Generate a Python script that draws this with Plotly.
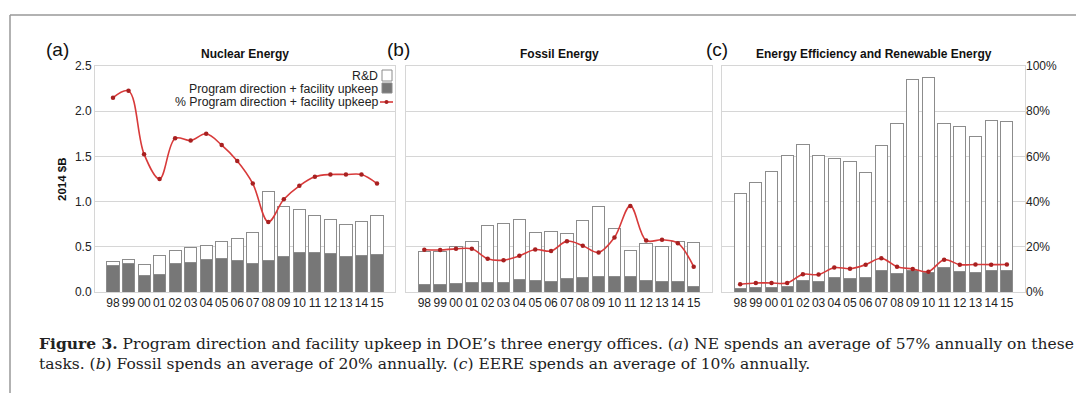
import plotly.graph_objects as go

# ---------------- data ----------------
years = ['98', '99', '00', '01', '02', '03', '04', '05', '06', '07', '08',
         '09', '10', '11', '12', '13', '14', '15']

# Nuclear Energy (2014 $B)
ne_total = [0.335, 0.36, 0.30, 0.40, 0.46, 0.49, 0.51, 0.56, 0.59, 0.66, 1.11,
            0.95, 0.91, 0.85, 0.80, 0.75, 0.78, 0.85]
ne_pd = [0.29, 0.317, 0.18, 0.195, 0.313, 0.33, 0.357, 0.368, 0.346, 0.32, 0.35,
         0.394, 0.434, 0.434, 0.423, 0.394, 0.405, 0.41]
ne_pct = [86, 89, 61, 50, 68, 67, 70, 65, 58, 48, 31, 41, 47, 51, 52, 52, 52, 48]

# Fossil Energy
fe_total = [0.453, 0.453, 0.508, 0.563, 0.74, 0.762, 0.80, 0.66, 0.666, 0.648,
            0.795, 0.946, 0.703, 0.457, 0.537, 0.508, 0.563, 0.552]
fe_pd = [0.085, 0.088, 0.096, 0.103, 0.11, 0.11, 0.133, 0.129, 0.12, 0.144,
         0.158, 0.17, 0.17, 0.173, 0.129, 0.118, 0.12, 0.063]
fe_pct = [18.7, 18.6, 19.1, 19.1, 14.7, 14.1, 16.0, 18.8, 18.1, 22.5, 20.5,
          17.5, 24.1, 38.1, 22.8, 23.1, 21.6, 11.2]

# Energy Efficiency and Renewable Energy
ee_total = [1.086, 1.21, 1.33, 1.506, 1.627, 1.506, 1.476, 1.447, 1.325, 1.624,
            1.867, 2.35, 2.37, 1.86, 1.834, 1.72, 1.90, 1.89]
ee_pd = [0.04, 0.05, 0.055, 0.063, 0.129, 0.118, 0.158, 0.147, 0.162, 0.243,
         0.21, 0.24, 0.22, 0.27, 0.225, 0.214, 0.24, 0.24]
ee_pct = [3.4, 4.0, 4.0, 4.0, 7.8, 7.7, 10.8, 10.3, 12.1, 14.9, 11.2, 10.2,
          9.0, 14.3, 12.1, 12.2, 12.1, 12.2]

panels = [
    ("Nuclear Energy", "(a)", ne_total, ne_pd, ne_pct),
    ("Fossil Energy", "(b)", fe_total, fe_pd, fe_pct),
    ("Energy Efficiency and Renewable Energy", "(c)", ee_total, ee_pd, ee_pct),
]

y_ticks = [0.0, 0.5, 1.0, 1.5, 2.0, 2.5]
pct_ticks = [0, 20, 40, 60, 80, 100]
pct_labels = [f"{v}%" for v in pct_ticks]

# ---------------- layout geometry ----------------
# the page has an 8px body margin, so the figure is drawn 8px smaller and
# all reference pixel positions are shifted by that offset
OFF = 8
W, H = 1084 - OFF, 393 - OFF
ML = 95 - OFF
MT = 66 - OFF
MR = W - (1025 - OFF)
MB = H - (292 - OFF)
PW = W - ML - MR
PH = H - MT - MB


def px2x(px):
    return (px - OFF - ML) / PW


def px2y(py):
    return (H - MB - (py - OFF)) / PH


domains = [(px2x(95), px2x(395)), (px2x(406), px2x(712)), (px2x(722), px2x(1025))]

FONT = "Liberation Sans, Arial, sans-serif"
SERIF = "DejaVu Serif, Liberation Serif, serif"
DARK = "#777777"
EDGE = "#8c8c8c"
GRID = "#d6d6d6"
RED = "#d83a3a"
MARK = "#a82020"
TXT = "#222222"

fig = go.Figure()

for i, (title, tag, total, pd_, pct) in enumerate(panels):
    n = i + 1
    xa = "x" if n == 1 else f"x{n}"
    ya = "y" if n == 1 else f"y{n}"
    ya2 = f"y{n + 3}"
    rd = [t - p for t, p in zip(total, pd_)]
    fig.add_trace(go.Bar(x=years, y=pd_, xaxis=xa, yaxis=ya,
                         marker=dict(color=DARK, line=dict(color=EDGE, width=1)),
                         showlegend=False, name="Program direction + facility upkeep"))
    fig.add_trace(go.Bar(x=years, y=rd, xaxis=xa, yaxis=ya,
                         marker=dict(color="white", line=dict(color=EDGE, width=1)),
                         showlegend=False, name="R&D"))
    fig.add_trace(go.Scatter(x=years, y=pct, xaxis=xa, yaxis=ya2, mode="lines+markers",
                             line=dict(color=RED, width=1.6, shape="spline", smoothing=1.0),
                             marker=dict(color=MARK, size=4.5),
                             showlegend=False, name="% Program direction + facility upkeep"))

    xkey = "xaxis" if n == 1 else f"xaxis{n}"
    ykey = "yaxis" if n == 1 else f"yaxis{n}"
    fig.layout[xkey] = dict(domain=list(domains[i]), anchor=ya, type="category",
                            showline=True, linecolor=GRID, mirror=True, ticks="",
                            tickangle=0,
                            tickfont=dict(family=FONT, size=12, color=TXT),
                            showgrid=False, fixedrange=True)
    fig.layout[ykey] = dict(domain=[0, 1], anchor=xa, range=[0, 2.5],
                            tickvals=y_ticks, tickformat=".1f",
                            showticklabels=(n == 1), showline=True, linecolor=GRID,
                            mirror=True, showgrid=True, gridcolor=GRID, gridwidth=1,
                            zeroline=False, ticks="",
                            tickfont=dict(family=FONT, size=12, color=TXT))
    fig.layout[f"yaxis{n + 3}"] = dict(overlaying=ya, anchor=xa, range=[0, 100],
                                       side="right", showgrid=False, zeroline=False,
                                       showline=False, visible=(n == 3),
                                       tickmode="array", tickvals=pct_ticks,
                                       ticktext=pct_labels, ticks="",
                                       tickfont=dict(family=FONT, size=12, color=TXT))

    cx = (domains[i][0] + domains[i][1]) / 2
    fig.add_annotation(text=f"<b>{title}</b>", x=cx, y=px2y(54), xref="paper", yref="paper",
                       showarrow=False, font=dict(family=FONT, size=12, color="#111"),
                       xanchor="center", yanchor="middle")

tag_pos = [(57, "(a)"), (398, "(b)"), (717, "(c)")]
for px, tag in tag_pos:
    fig.add_annotation(text=tag, x=px2x(px), y=px2y(49), xref="paper", yref="paper",
                       showarrow=False, font=dict(family=FONT, size=19, color="#111"),
                       xanchor="center", yanchor="middle")

# y-axis title
fig.add_annotation(text="<b>2014 $B</b>", x=px2x(62), y=px2y(180), xref="paper",
                   yref="paper", textangle=-90, showarrow=False,
                   font=dict(family=FONT, size=11.5, color="#111"),
                   xanchor="center", yanchor="middle")

# custom legend (text right-aligned, symbol on the right) in panel (a)
leg_items = [("R&D", 75.5), ("Program direction + facility upkeep", 88.5),
             ("% Program direction + facility upkeep", 102)]
for label, py in leg_items:
    fig.add_annotation(text=label, x=px2x(380), y=px2y(py), xref="paper", yref="paper",
                       showarrow=False, xanchor="right", yanchor="middle",
                       font=dict(family=FONT, size=12.3, color=TXT))
fig.add_shape(type="rect", xref="paper", yref="paper", x0=px2x(382), x1=px2x(392),
              y0=px2y(81), y1=px2y(70), line=dict(color=EDGE, width=1), fillcolor="white")
fig.add_shape(type="rect", xref="paper", yref="paper", x0=px2x(382), x1=px2x(392),
              y0=px2y(93), y1=px2y(83), line=dict(color=EDGE, width=1), fillcolor=DARK)
fig.add_shape(type="line", xref="paper", yref="paper", x0=px2x(380), x1=px2x(393),
              y0=px2y(102), y1=px2y(102), line=dict(color=RED, width=1.6))
fig.add_shape(type="circle", xref="paper", yref="paper", x0=px2x(384.5), x1=px2x(388.5),
              y0=px2y(104), y1=px2y(100), line=dict(color=MARK, width=0), fillcolor=MARK)

# outer frame: top edge and left edge
fig.add_shape(type="line", xref="paper", yref="paper", x0=px2x(10), x1=px2x(1084),
              y0=px2y(15), y1=px2y(15), line=dict(color="#999999", width=1.5))
fig.add_shape(type="line", xref="paper", yref="paper", x0=px2x(10), x1=px2x(10),
              y0=px2y(15), y1=px2y(393), line=dict(color="#999999", width=1.5))

# caption
caption = ("<b>Figure 3.</b> Program direction and facility upkeep in DOE’s three energy offices. "
           "(<i>a</i>) NE spends an average of 57% annually on these<br>"
           "tasks. (<i>b</i>) Fossil spends an average of 20% annually. "
           "(<i>c</i>) EERE spends an average of 10% annually.")
fig.add_annotation(text=caption, x=px2x(37), y=px2y(332), xref="paper", yref="paper",
                   showarrow=False, xanchor="left", yanchor="top", align="left",
                   font=dict(family=SERIF, size=15.5, color="#222"))

fig.update_layout(
    width=W, height=H,
    margin=dict(l=ML, r=MR, t=MT, b=MB, autoexpand=False),
    barmode="stack", bargap=0.22,
    plot_bgcolor="white", paper_bgcolor="white",
    showlegend=False,
)

fig.write_html("out.html")
